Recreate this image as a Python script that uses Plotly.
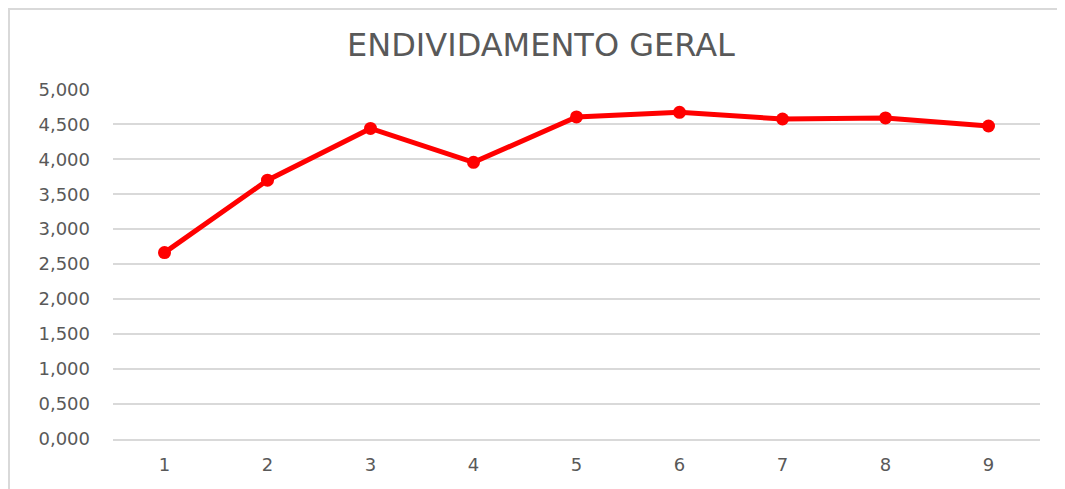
import plotly.graph_objects as go

categories = [1, 2, 3, 4, 5, 6, 7, 8, 9]
endividamento = [2.665, 3.70, 4.44, 3.955, 4.605, 4.67, 4.575, 4.59, 4.475]
y_ticks = [0, 0.5, 1, 1.5, 2, 2.5, 3, 3.5, 4, 4.5, 5]
y_tick_labels = ["0,000", "0,500", "1,000", "1,500", "2,000", "2,500",
                 "3,000", "3,500", "4,000", "4,500", "5,000"]

# the page body adds an 8px offset, so the figure is sized to compensate
OFF = 8
W, H = 1065 - OFF, 489 - OFF
L, R, T, B = 113 - OFF, 25, 89 - OFF, 50
pw, ph = W - L - R, H - T - B

def px_x(px):
    return (px - L) / pw

def px_y(py):
    return (H - B - py) / ph

fig = go.Figure()
fig.add_trace(go.Scatter(
    x=categories, y=endividamento, mode="lines+markers",
    line=dict(color="#ff0000", width=5),
    marker=dict(color="#ff0000", size=13),
    showlegend=False, hoverinfo="x+y",
))

grid = "#d9d9d9"
txt = "#595959"
fnt = "DejaVu Sans"
fig.update_layout(
    width=W, height=H,
    margin=dict(l=L, r=R, t=T, b=B),
    paper_bgcolor="white", plot_bgcolor="white",
    font=dict(family=fnt, color=txt),
    title=dict(text="ENDIVIDAMENTO GERAL", x=(541 - OFF) / W, xanchor="center",
               y=1 - (44.5 - OFF) / H, yanchor="middle", yref="container",
               font=dict(family=fnt, size=32, color=txt)),
    xaxis=dict(range=[0.5, 9.5], tickmode="array", tickvals=categories,
               ticktext=[str(c) for c in categories], showgrid=False,
               zeroline=False, showline=True, linecolor=grid, linewidth=2,
               tickfont=dict(size=18, color=txt), ticks="",
               ticklabelstandoff=8),
    yaxis=dict(range=[0, 5.004], tickmode="array", tickvals=y_ticks,
               ticktext=y_tick_labels, showgrid=True, gridcolor=grid,
               gridwidth=2, zeroline=False, showline=False,
               tickfont=dict(size=18, color=txt), ticks="",
               ticklabelstandoff=22),
    shapes=[
        dict(type="line", xref="paper", yref="paper",
             x0=px_x(0), x1=px_x(W), y0=px_y(1), y1=px_y(1),
             line=dict(color=grid, width=2)),
        dict(type="line", xref="paper", yref="paper",
             x0=px_x(1), x1=px_x(1), y0=px_y(0), y1=px_y(H),
             line=dict(color=grid, width=2)),
    ],
)

fig.write_html("out.html")
